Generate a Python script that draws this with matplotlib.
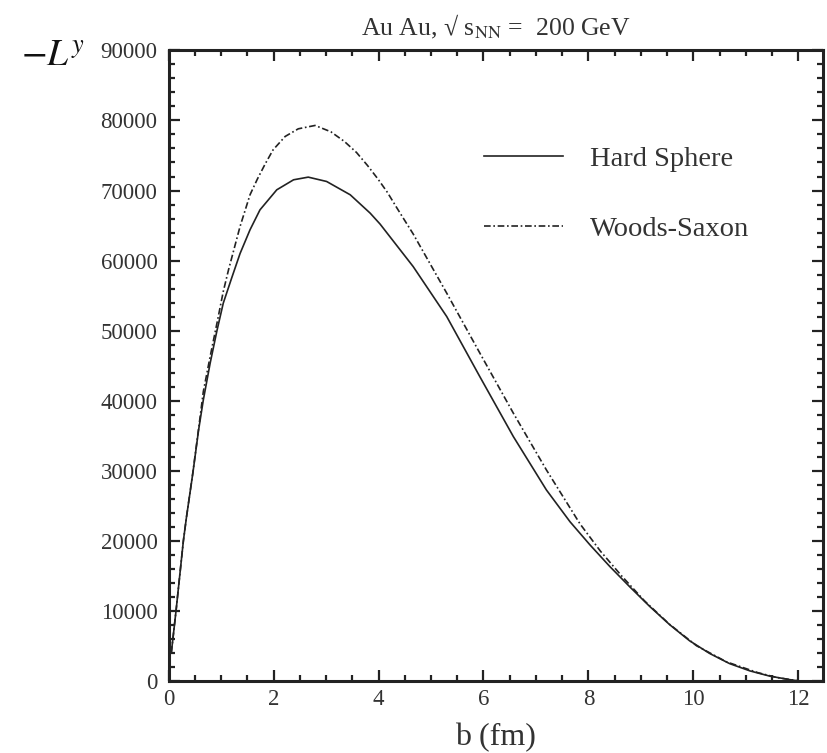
import numpy as np
import matplotlib
matplotlib.use("Agg")
import matplotlib.pyplot as plt
from matplotlib.ticker import MultipleLocator

plt.rcParams['font.family'] = ['Liberation Serif', 'DejaVu Serif']
plt.rcParams['mathtext.fontset'] = 'stix'

# --- datos ---
b_hs = [0.05, 0.14, 0.28, 0.34, 0.46, 0.57, 0.66, 0.79, 0.92, 1.04, 1.20,
        1.36, 1.55, 1.74, 2.06, 2.38, 2.66, 3.01, 3.46, 3.84, 4.03, 4.66,
        5.30, 5.93, 6.57, 7.20, 7.65, 8.03, 8.41, 8.79, 9.17, 9.55, 9.93,
        10.31, 10.69, 11.08, 11.46, 11.84, 11.98]
L_hs = [4000, 10000, 20000, 23430, 29630, 35810, 40100, 45340, 50000, 53910,
        57500, 61000, 64390, 67240, 70100, 71530, 71910, 71290, 69390, 66770,
        65200, 59140, 52000, 43430, 34860, 27240, 22700, 19400, 16300, 13400,
        10600, 8000, 5700, 3900, 2450, 1400, 650, 150, 0]

b_ws = [0.05, 0.14, 0.28, 0.34, 0.46, 0.57, 0.66, 0.79, 0.92, 1.04, 1.14,
        1.36, 1.55, 1.69, 1.84, 1.99, 2.22, 2.47, 2.79, 3.09, 3.35, 3.58,
        3.79, 3.99, 4.17, 4.34, 4.50, 4.66, 5.30, 5.93, 6.57, 7.20, 7.84,
        8.23, 8.63, 9.07, 9.54, 10.06, 10.63, 11.23, 11.60, 11.98]
L_ws = [4000, 10000, 20000, 23430, 29700, 36000, 41290, 46290, 51060, 55570,
        58670, 64860, 69390, 71630, 73810, 75810, 77720, 78810, 79290, 78390,
        77000, 75430, 73570, 71630, 69720, 67630, 65710, 63800, 55340, 46800,
        38200, 30100, 22400, 18500, 15000, 11400, 8100, 5000, 2700, 1150,
        450, 0]

fig = plt.figure(figsize=(8.27, 7.53), dpi=100)
ax = fig.add_axes([0.204, 0.096, 0.791, 0.837])

ax.plot(b_hs, L_hs, color='#222222', lw=1.2, label='Hard Sphere')
ax.plot(b_ws, L_ws, color='#222222', lw=1.2, dashes=(4, 1.6, 1, 1.6),
        label='Woods-Saxon')

ax.set_xlim(0, 12.47)
ax.set_ylim(0, 90000)
ax.xaxis.set_major_locator(MultipleLocator(2))
ax.xaxis.set_minor_locator(MultipleLocator(0.5))
ax.yaxis.set_major_locator(MultipleLocator(10000))
ax.yaxis.set_minor_locator(MultipleLocator(2000))
ax.tick_params(which='both', direction='in', top=True, right=True,
               width=1.6, colors='#222222', labelcolor='#333333')
ax.tick_params(which='major', length=8, labelsize=16.5)
ax.tick_params(axis='y', which='major', pad=8)
ax.tick_params(axis='x', which='major', pad=6)
ax.tick_params(which='minor', length=4)
for s in ax.spines.values():
    s.set_linewidth(2.2)
    s.set_color('#222222')

ax.set_title('Au Au, \u221a s$_{\\mathrm{NN}}$ =  200 GeV', fontsize=18.5,
             color='#333333', pad=11)
ax.set_xlabel('b (fm)', fontsize=23, color='#333333', labelpad=9)
fig.text(0.025, 0.912, r'$-L^y$', fontsize=27, color='#111111',
         ha='left', va='baseline')

leg = ax.legend(loc='upper left', bbox_to_anchor=(0.4435, 0.8895), frameon=False,
                fontsize=20.5, handlelength=2.77, handletextpad=0.95,
                labelspacing=1.55)
for t in leg.get_texts():
    t.set_color('#333333')

fig.savefig('out.png', dpi=100)
